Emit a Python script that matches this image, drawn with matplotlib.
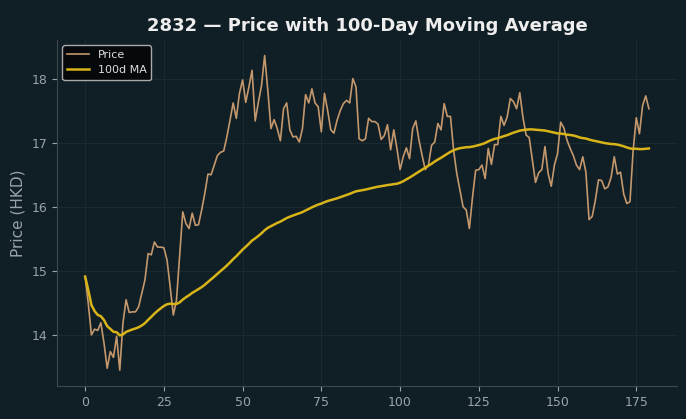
import matplotlib
matplotlib.use("Agg")
import matplotlib.pyplot as plt
import pandas as pd

TICKER = "2832"
WINDOW = 100

price = [
    14.91, 14.49, 14.00, 14.09, 14.07, 14.19, 13.87, 13.48, 13.74, 13.65,
    13.98, 13.45, 14.18, 14.55, 14.35, 14.36, 14.36, 14.44, 14.65, 14.86,
    15.27, 15.25, 15.45, 15.37, 15.37, 15.36, 15.17, 14.75, 14.31, 14.54,
    15.22, 15.92, 15.74, 15.66, 15.90, 15.71, 15.72, 15.95, 16.21, 16.51,
    16.50, 16.65, 16.80, 16.85, 16.87, 17.09, 17.35, 17.62, 17.38, 17.77,
    17.98, 17.63, 17.87, 18.13, 17.34, 17.63, 17.89, 18.36, 17.82, 17.22,
    17.36, 17.22, 17.03, 17.53, 17.62, 17.20, 17.09, 17.10, 17.01, 17.22,
    17.75, 17.62, 17.84, 17.62, 17.56, 17.17, 17.77, 17.50, 17.20, 17.15,
    17.35, 17.50, 17.61, 17.66, 17.62, 18.00, 17.87, 17.06, 17.03, 17.06,
    17.38, 17.33, 17.33, 17.29, 17.05, 17.11, 17.28, 16.89, 17.20, 16.91,
    16.58, 16.78, 16.92, 16.75, 17.22, 17.34, 17.04, 16.80, 16.58, 16.65,
    16.96, 17.01, 17.30, 17.20, 17.61, 17.41, 17.41, 16.88, 16.52, 16.26,
    16.00, 15.95, 15.66, 16.15, 16.57, 16.58, 16.65, 16.44, 16.91, 16.66,
    16.97, 16.97, 17.41, 17.27, 17.40, 17.69, 17.64, 17.53, 17.78, 17.40,
    17.12, 17.08, 16.73, 16.38, 16.53, 16.58, 16.94, 16.52, 16.32, 16.65,
    16.83, 17.32, 17.23, 17.04, 16.91, 16.80, 16.65, 16.58, 16.78, 16.54,
    15.80, 15.85, 16.10, 16.42, 16.41, 16.28, 16.31, 16.46, 16.78, 16.51,
    16.54, 16.20, 16.05, 16.08, 16.88, 17.39, 17.14, 17.58, 17.73, 17.53,
]

df = pd.DataFrame({"price": price})
df["ma"] = df["price"].rolling(WINDOW, min_periods=1).mean()

BG = "#101f26"
TXT = "#9aa4a8"

fig, ax = plt.subplots(figsize=(6.86, 4.19), dpi=100)
fig.patch.set_facecolor(BG)
ax.set_facecolor(BG)
fig.subplots_adjust(left=0.083, right=0.987, top=0.905, bottom=0.079)

ax.plot(df.index, df["price"], color="#c4986c", lw=1.2, label="Price")
ax.plot(df.index, df["ma"], color="#d8b418", lw=1.8, label="100d MA")

ax.set_title(f"{TICKER} — Price with 100-Day Moving Average",
             color="#eeeeee", fontsize=13, fontweight="bold")
ax.set_ylabel("Price (HKD)", color=TXT, fontsize=11)
ax.set_xticks([0, 25, 50, 75, 100, 125, 150, 175])
ax.tick_params(colors=TXT, labelsize=9)
for side in ["top", "right"]:
    ax.spines[side].set_visible(False)
for side in ["left", "bottom"]:
    ax.spines[side].set_color("#3c4a50")
ax.grid(True, color="#192a30", lw=0.8)
ax.set_axisbelow(True)

leg = ax.legend(loc="upper left", fontsize=8, facecolor="#05090b",
                edgecolor="#aaaaaa", framealpha=1)
for t in leg.get_texts():
    t.set_color("#dddddd")

fig.savefig("out.png", dpi=100, facecolor=BG)
